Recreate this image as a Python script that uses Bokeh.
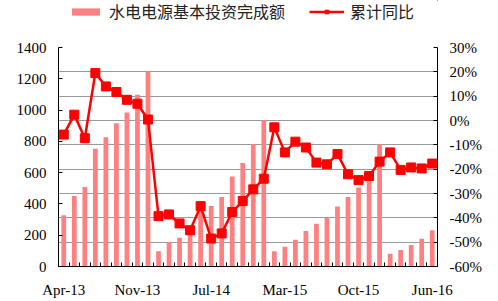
import numpy as np
from bokeh.plotting import figure
from bokeh.layouts import column
from bokeh.models import (Range1d, LinearAxis, FixedTicker, PrintfTickFormatter,
                          Legend, LegendItem, Grid)
from bokeh.embed import file_html
from bokeh.resources import INLINE

months = ["Apr-13", "May-13", "Jun-13", "Jul-13", "Aug-13", "Sep-13", "Oct-13", "Nov-13", "Dec-13",
          "Feb-14", "Mar-14", "Apr-14", "May-14", "Jun-14", "Jul-14", "Aug-14", "Sep-14", "Oct-14",
          "Nov-14", "Dec-14",
          "Feb-15", "Mar-15", "Apr-15", "May-15", "Jun-15", "Jul-15", "Aug-15", "Sep-15", "Oct-15",
          "Nov-15", "Dec-15",
          "Feb-16", "Mar-16", "Apr-16", "May-16", "Jun-16"]
investment = [327, 451, 509, 753, 826, 916, 985, 1098, 1248,
              98, 156, 184, 231, 360, 387, 445, 576, 661, 783, 937,
              98, 126, 171, 227, 274, 312, 383, 445, 505, 601, 783,
              81, 105, 137, 177, 231]
yoy = [-5.8, 2.4, -7.3, 19.5, 14.0, 11.7, 8.5, 6.9, 0.4,
       -39.3, -38.6, -42.3, -45.1, -35.2, -48.5, -46.4, -37.6, -33.1, -28.3, -23.9,
       -2.8, -13.1, -8.7, -11.1, -17.3, -18.0, -13.8, -22.1, -24.5, -22.8, -16.9,
       -13.1, -20.3, -19.3, -19.7, -17.7]
tick_labels = ["Apr-13", "Nov-13", "Jul-14", "Mar-15", "Oct-15", "Jun-16"]
left_ticks = [0, 200, 400, 600, 800, 1000, 1200, 1400]
right_ticks = [-60, -50, -40, -30, -20, -10, 0, 10, 20, 30]
series_names = ["水电电源基本投资完成额", "累计同比"]

x = np.arange(len(months))
label_pos = [months.index(m) for m in tick_labels]

FONT = "Liberation Serif"
BAR_COLOR = "#FF8080"
LINE_COLOR = "#FF0000"

# ---------- main chart ----------
p = figure(width=498, height=264, output_backend="svg", toolbar_location=None,
           x_range=Range1d(-0.5, len(months) - 0.5), y_range=Range1d(0, 1400),
           min_border_left=58, min_border_right=61, min_border_top=10, min_border_bottom=35)
p.outline_line_color = None
p.xgrid.visible = False
p.ygrid.visible = False
p.background_fill_color = "white"
p.border_fill_color = "white"

p.extra_y_ranges = {"pct": Range1d(-60, 30)}

xa = p.xaxis[0]
xa.ticker = FixedTicker(ticks=label_pos, minor_ticks=[i - 0.5 for i in range(len(months) + 1)])
xa.major_label_overrides = {i: m for i, m in zip(label_pos, tick_labels)}
xa.major_tick_in = 0
xa.major_tick_out = 0
xa.minor_tick_in = 4
xa.minor_tick_out = 0
xa.minor_tick_line_color = "black"
xa.axis_line_color = "black"
xa.major_label_text_font = FONT
xa.major_label_text_font_size = "15px"
xa.major_label_text_color = "black"
xa.major_label_standoff = 15

ya = p.yaxis[0]
ya.ticker = FixedTicker(ticks=left_ticks)
ya.major_tick_in = 4
ya.major_tick_out = 0
ya.minor_tick_line_color = None
ya.axis_line_color = "black"
ya.major_label_text_font = FONT
ya.major_label_text_font_size = "15px"
ya.major_label_text_color = "black"
ya.major_label_standoff = 12

ra = LinearAxis(y_range_name="pct", ticker=FixedTicker(ticks=right_ticks),
                formatter=PrintfTickFormatter(format="%d%%"))
ra.major_tick_in = 4
ra.major_tick_out = 0
ra.minor_tick_line_color = None
ra.axis_line_color = "black"
ra.major_label_text_font = FONT
ra.major_label_text_font_size = "15px"
ra.major_label_text_color = "black"
ra.major_label_standoff = 12
p.add_layout(ra, "right")

grid = Grid(dimension=1, ticker=FixedTicker(ticks=right_ticks), y_range_name="pct",
            grid_line_color="#9a9a9a", grid_line_width=1)
p.add_layout(grid)

bars = p.vbar(x=x, top=investment, width=0.45, fill_color=BAR_COLOR, line_color=None)
ln = p.line(x, yoy, y_range_name="pct", line_color=LINE_COLOR, line_width=2.5)
sc = p.scatter(x, yoy, y_range_name="pct", marker="square", size=9,
               fill_color=LINE_COLOR, line_color=LINE_COLOR)

# ---------- legend strip (same series drawn outside its visible range) ----------
lf = figure(width=498, height=37, output_backend="svg", toolbar_location=None,
            x_axis_location=None, y_axis_location=None,
            x_range=Range1d(-1000, -999), y_range=Range1d(-1000, -999),
            min_border_left=0, min_border_right=0, min_border_top=0, min_border_bottom=0)
lf.grid.visible = False
lf.outline_line_color = None
lf.background_fill_color = "white"
lf.border_fill_color = "white"

lb = lf.vbar(x=x, top=investment, width=0.45, fill_color=BAR_COLOR, line_color=None)
ll = lf.line(x, yoy, line_color=LINE_COLOR, line_width=2.5)
ls = lf.scatter(x, yoy, marker="square", size=9, fill_color=LINE_COLOR, line_color=LINE_COLOR)

legend = Legend(items=[LegendItem(label=series_names[0], renderers=[lb]),
                       LegendItem(label=series_names[1], renderers=[ll, ls])],
                orientation="horizontal", location=(10, 14),
                label_text_font="Noto Sans CJK SC", label_text_font_size="16px",
                label_text_color="#222222",
                glyph_width=35, glyph_height=9, label_standoff=6, spacing=24,
                padding=0, margin=0, border_line_color=None, background_fill_alpha=0)
lf.add_layout(legend)

layout = column(lf, p, spacing=0)
open("out.html", "w").write(file_html(layout, INLINE))
